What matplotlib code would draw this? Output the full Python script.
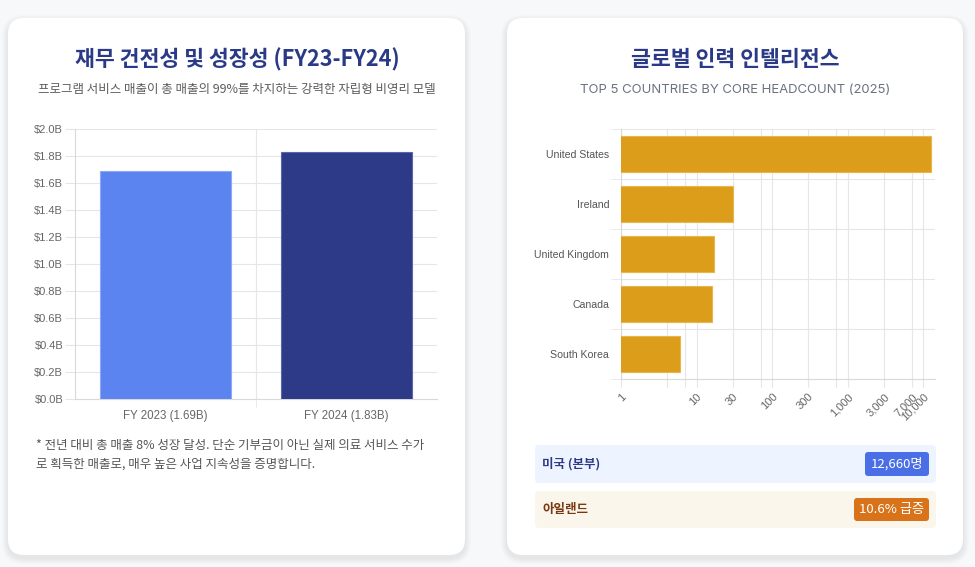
import numpy as np
import matplotlib
matplotlib.use("Agg")
import matplotlib.pyplot as plt
from matplotlib.patches import FancyBboxPatch
from matplotlib.transforms import IdentityTransform
from matplotlib.ticker import FixedLocator, NullFormatter

# data
years = ["FY 2023 (1.69B)", "FY 2024 (1.83B)"]
revenue = [1.69, 1.83]
rev_colors = ["#5b84f1", "#2d3a87"]
rev_ticks = [0.0, 0.2, 0.4, 0.6, 0.8, 1.0, 1.2, 1.4, 1.6, 1.8, 2.0]

countries = ["United States", "Ireland", "United Kingdom", "Canada", "South Korea"]
headcount = [12660, 30, 17, 16, 6]
grid_ticks = [1, 4, 7, 10, 30, 70, 100, 300, 700, 1000, 3000, 7000, 10000]
label_ticks = [1, 10, 30, 100, 300, 1000, 3000, 7000, 10000]

W, H = 975, 567
KR = ["Noto Sans CJK KR", "DejaVu Sans"]
NAVY = "#2a3a86"
GRID = "#e6e6e6"
TICK = "#666666"

plt.rcParams["font.family"] = ["Liberation Sans", "DejaVu Sans"]

fig = plt.figure(figsize=(W / 100, H / 100), dpi=100)
fig.patch.set_facecolor("#f7f8fa")


def fx(x):
    return x / W


def fy(y):
    return 1 - y / H


def box(x0, y0, x1, y1, color, r, z=-5, alpha=1.0):
    p = FancyBboxPatch((x0, H - y1), x1 - x0, y1 - y0,
                       boxstyle="round,pad=0,rounding_size=%g" % r,
                       transform=IdentityTransform(), facecolor=color,
                       edgecolor="none", zorder=z, alpha=alpha)
    fig.add_artist(p)


# cards with soft shadow
for (cx0, cx1) in [(8, 465), (507, 963)]:
    for k in range(6, 0, -1):
        box(cx0 - k, 18 - k + 3, cx1 + k, 555 + k + 3, "#000000", 16 + k, z=-8, alpha=0.012)
    box(cx0, 18, cx1, 555, "white", 16, z=-6)

# ---------- left card ----------
fig.text(fx(237), fy(60), "재무 건전성 및 성장성 (FY23-FY24)", family=KR,
         fontsize=15.6, fontweight="bold", color=NAVY, ha="center", va="center")
fig.text(fx(237), fy(90), "프로그램 서비스 매출이 총 매출의 99%를 차지하는 강력한 자립형 비영리 모델",
         family=KR, fontsize=9, color="#5c5c5c", ha="center", va="center")

ax1 = fig.add_axes([fx(75), fy(399), (437 - 75) / W, 270 / H])
ax1.set_facecolor("none")
x = np.arange(len(years))
ax1.bar(x, revenue, width=0.72, color=rev_colors, edgecolor=["#8fa8f5", "#5a66a8"],
        linewidth=0.8, zorder=3)
ax1.set_xlim(-0.5, 1.5)
ax1.set_ylim(0, 2.0)
ax1.set_yticks(rev_ticks)
ax1.set_yticklabels(["$%.1fB" % v for v in rev_ticks])
ax1.set_xticks(x)
ax1.set_xticklabels(years)
ax1.xaxis.set_minor_locator(FixedLocator([0.5]))
ax1.tick_params(axis="x", which="major", length=0, pad=8, labelsize=8.3, labelcolor=TICK)
ax1.tick_params(axis="x", which="minor", length=6, color=GRID)
ax1.tick_params(axis="y", length=7, color=GRID, labelsize=8, labelcolor=TICK, pad=1.5)
ax1.grid(axis="y", color=GRID, linewidth=0.8, zorder=0)
ax1.grid(axis="x", which="minor", color=GRID, linewidth=0.8, zorder=0)
for s in ["top", "right"]:
    ax1.spines[s].set_visible(False)
for s in ["left", "bottom"]:
    ax1.spines[s].set_color("#d9d9d9")

fig.text(fx(36), fy(446), "* 전년 대비 총 매출 8% 성장 달성. 단순 기부금이 아닌 실제 의료 서비스 수가",
         family=KR, fontsize=9, color="#555555", ha="left", va="center", style="italic")
fig.text(fx(36), fy(464), "로 획득한 매출로, 매우 높은 사업 지속성을 증명합니다.",
         family=KR, fontsize=9, color="#555555", ha="left", va="center", style="italic")

# ---------- right card ----------
fig.text(fx(735), fy(60), "글로벌 인력 인텔리전스", family=KR, fontsize=15.6,
         fontweight="bold", color=NAVY, ha="center", va="center")
fig.text(fx(735), fy(90), "TOP 5 COUNTRIES BY CORE HEADCOUNT (2025)", family=["Inter", "DejaVu Sans"],
         fontsize=9.45, color="#6b7280", ha="center", va="center")

ax2 = fig.add_axes([fx(621), fy(379), (935 - 621) / W, 250 / H])
ax2.set_facecolor("none")
y = np.arange(len(countries))
ax2.barh(y, headcount, height=0.72, left=0, color="#dc9e1a", edgecolor="#e8b64a",
         linewidth=0.8, zorder=3)
ax2.set_xscale("log")
ax2.set_xlim(1, 14200)
ax2.set_ylim(len(countries) - 0.5, -0.5)
ax2.set_yticks(y)
ax2.set_yticklabels(countries)
ax2.yaxis.set_minor_locator(FixedLocator(np.arange(-0.5, len(countries), 1.0)))
ax2.xaxis.set_major_locator(FixedLocator(grid_ticks))
ax2.xaxis.set_minor_locator(FixedLocator([]))
ax2.xaxis.set_minor_formatter(NullFormatter())
ax2.set_xticklabels(["{:,}".format(t) if t in label_ticks else "" for t in grid_ticks],
                    rotation=45, ha="right", rotation_mode="anchor")
ax2.tick_params(axis="x", length=6, color=GRID, labelsize=8, labelcolor=TICK, pad=3)
ax2.tick_params(axis="y", which="major", length=0, labelsize=7.6, labelcolor="#555555", pad=8.5)
ax2.tick_params(axis="y", which="minor", length=7, color=GRID)
ax2.grid(axis="x", color=GRID, linewidth=0.8, zorder=0)
ax2.grid(axis="y", which="minor", color=GRID, linewidth=0.8, zorder=0)
for s in ["top", "right"]:
    ax2.spines[s].set_visible(False)
for s in ["left", "bottom"]:
    ax2.spines[s].set_color("#d9d9d9")

# info rows
box(535, 445, 936, 483, "#eef4ff", 4)
fig.text(fx(542), fy(464), "미국 (본부)", family=KR, fontsize=9, fontweight="bold",
         color="#2d3a87", ha="left", va="center")
box(865, 452, 929, 476, "#4a6ee6", 3, z=-4)
fig.text(fx(897), fy(464), "12,660명", family=KR, fontsize=9.5, fontweight="medium",
         color="white", ha="center", va="center")

box(535, 491, 936, 528, "#fbf6ec", 4)
fig.text(fx(542), fy(509.5), "아일랜드", family=KR, fontsize=9, fontweight="bold",
         color="#7a3810", ha="left", va="center")
box(854, 498, 929, 521, "#d9731a", 3, z=-4)
fig.text(fx(891.5), fy(509.5), "10.6% 급증", family=KR, fontsize=9.5, fontweight="medium",
         color="white", ha="center", va="center")

fig.savefig("out.png", dpi=100, facecolor=fig.get_facecolor())
